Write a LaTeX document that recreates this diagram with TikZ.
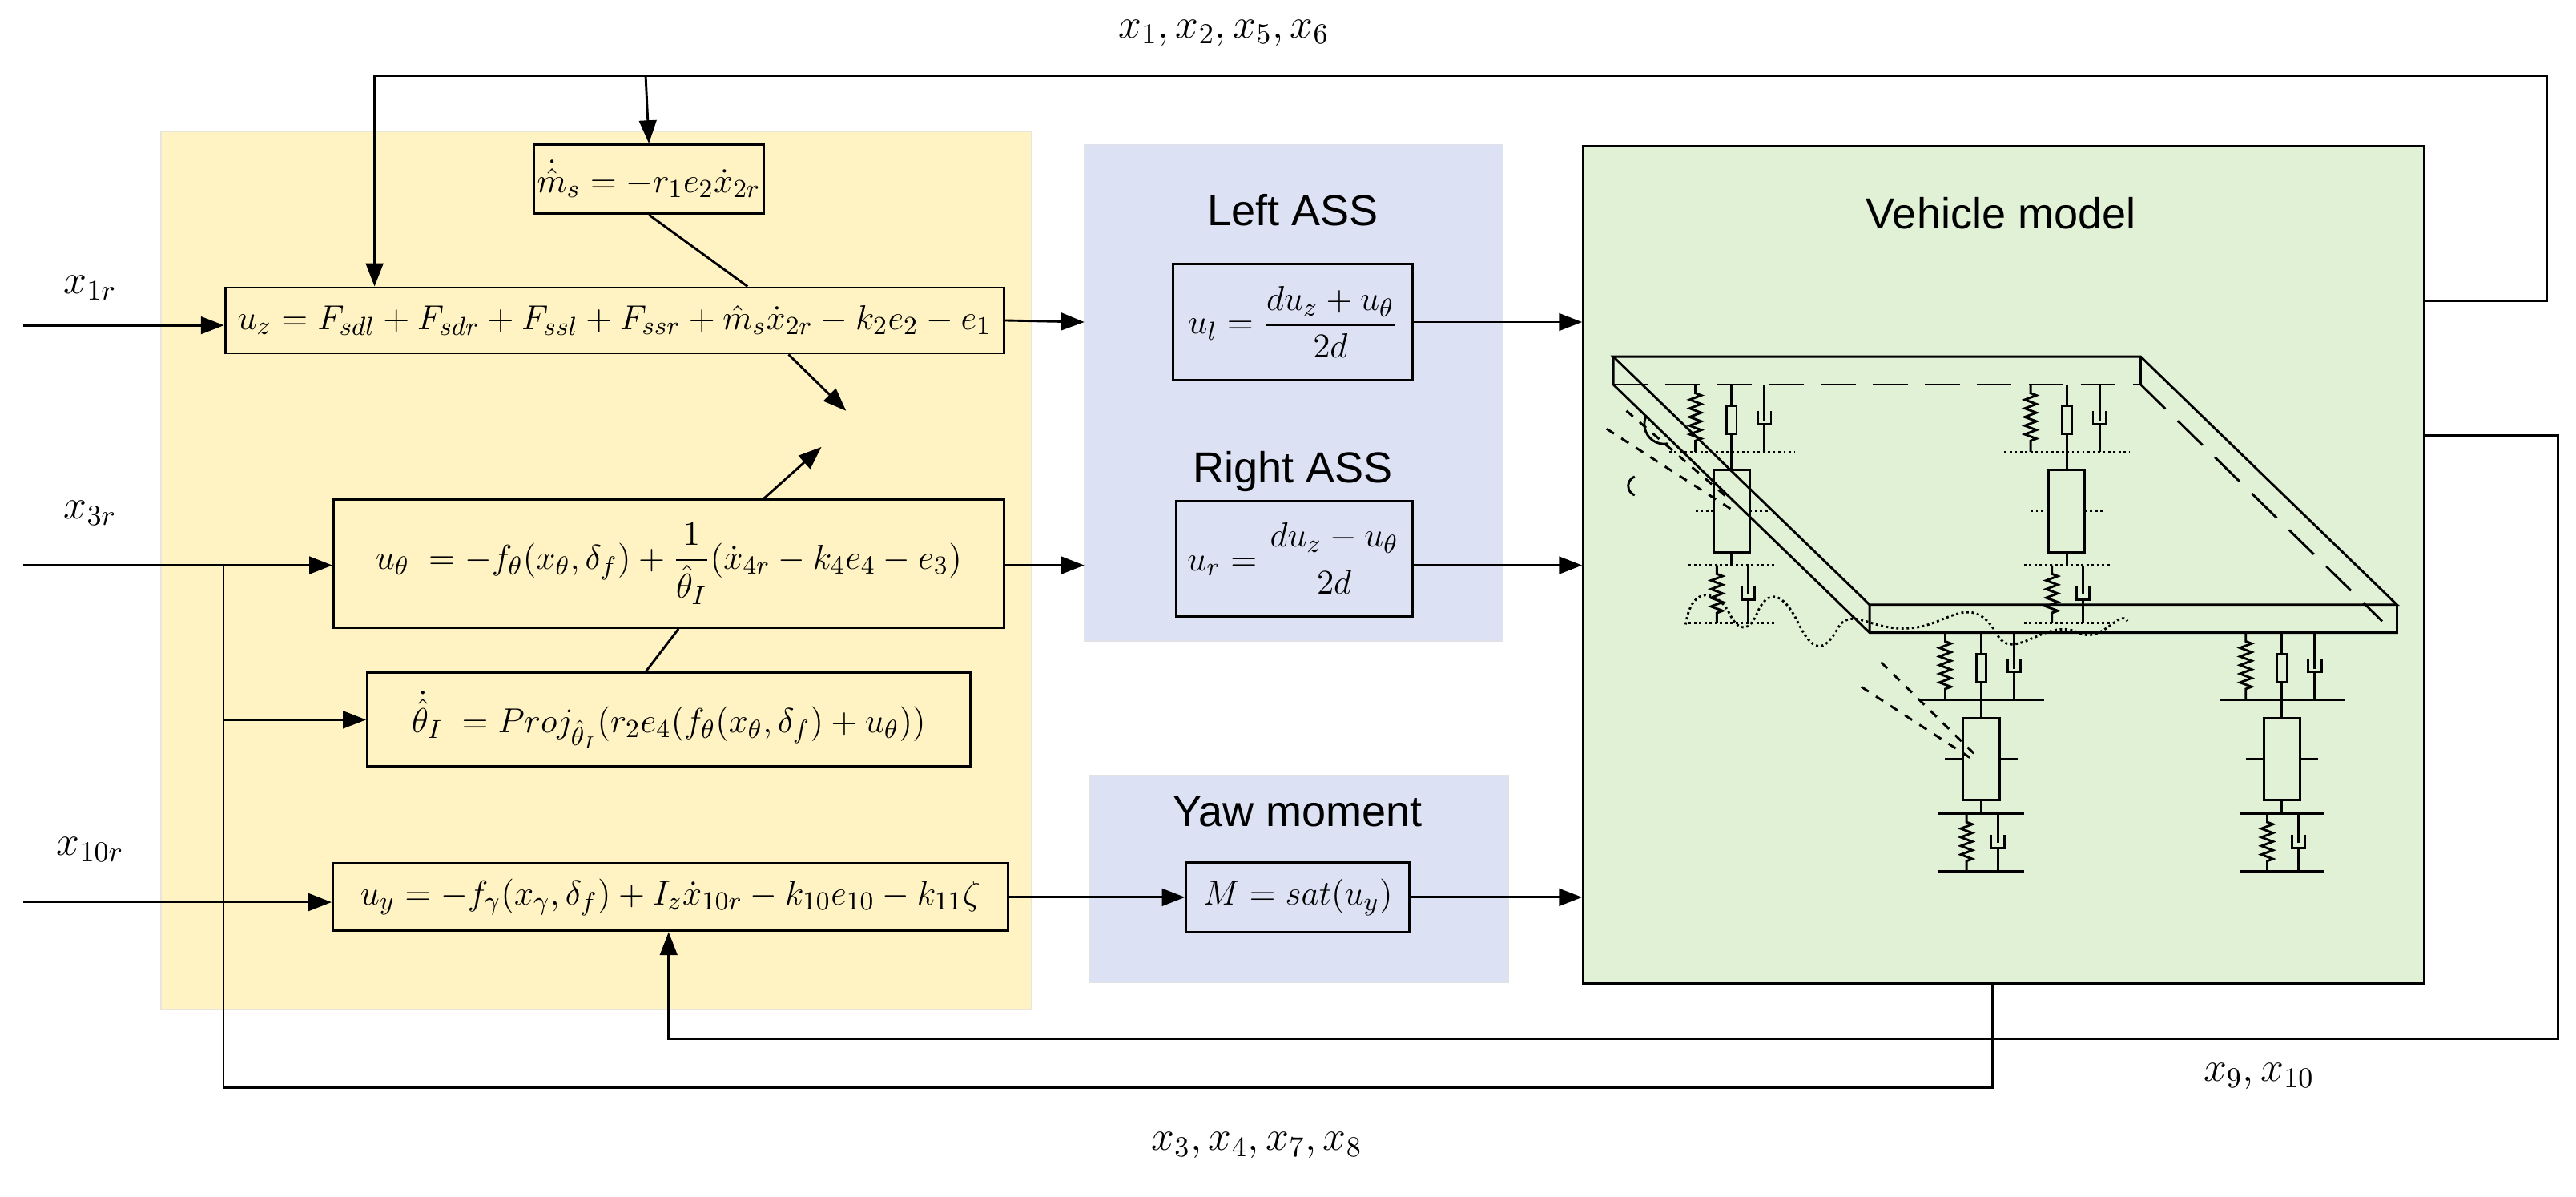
\documentclass[tikz,border=0pt]{standalone}
\usepackage{fontspec}
\setmainfont{Liberation Sans}
\usepackage{amsmath}
\usetikzlibrary{arrows.meta,positioning,calc,decorations.pathmorphing}
\definecolor{ctrlyellow}{HTML}{FFF3C4}
\definecolor{assblue}{HTML}{DDE1F4}
\definecolor{vehgreen}{HTML}{E1F1D5}
\tikzset{
	eq/.style={draw,thick,inner sep=1pt,font=\fontsize{12.5}{15}\selectfont},
	lbl/.style={font=\fontsize{14}{16}\selectfont},
	ttl/.style={font=\fontsize{15}{17}\selectfont},
	sig/.style={-{Triangle[length=8pt,width=6pt]},thick},
	line/.style={thick},
	spring/.style={thick,decorate,decoration={zigzag,segment length=3pt,amplitude=2pt,pre length=3pt,post length=3pt}},
}
% one suspension column: x, top y, style of the bars
\newcommand\suscol[3]{%
	\draw[spring] (#1-22,#2) -- (#1-22,#2+41);
	\draw[thick] (#1,#2) -- (#1,#2+13) (#1-3,#2+13) rectangle (#1+3,#2+30) (#1,#2+30) -- (#1,#2+41);
	\draw[thick] (#1+20,#2) -- (#1+20,#2+22) (#1+16,#2+16) -- (#1+16,#2+24) -- (#1+24,#2+24) -- (#1+24,#2+16) (#1+20,#2+24) -- (#1+20,#2+41);
	\draw[thick,#3] (#1-38,#2+41) -- (#1+38,#2+41);
	\draw[thick] (#1,#2+41) -- (#1,#2+52) (#1-11,#2+52) rectangle (#1+11,#2+102) (#1,#2+102) -- (#1,#2+110);
	\draw[thick,#3] (#1-22,#2+77) -- (#1-11,#2+77) (#1+11,#2+77) -- (#1+22,#2+77);
	\draw[thick,#3] (#1-26,#2+110) -- (#1+26,#2+110);
	\draw[spring] (#1-9,#2+110) -- (#1-9,#2+145);
	\draw[thick] (#1+10,#2+110) -- (#1+10,#2+128) (#1+6,#2+123) -- (#1+6,#2+131) -- (#1+14,#2+131) -- (#1+14,#2+123) (#1+10,#2+131) -- (#1+10,#2+145);
	\draw[thick,#3] (#1-26,#2+145) -- (#1+26,#2+145);
}
\begin{document}
\begin{tikzpicture}[x=0.02cm,y=-0.02cm]
	\useasboundingbox (0,0) rectangle (1568,728);
	%BACKGROUND BLOCKS
	\fill[ctrlyellow,draw=ctrlyellow!70!black!30] (98,80) rectangle (628,614);
	\fill[assblue,draw=assblue!70!black!30] (660,88) rectangle (915,390);
	\fill[assblue,draw=assblue!70!black!30] (663,472) rectangle (918,598);
	\node[draw,thick,fill=vehgreen,minimum width=10.24cm,minimum height=10.2cm,anchor=north west](veh) at (963,88){};
	\node[ttl] (lass) at (787,128){Left ASS};
	\node[ttl] (rass) at (787,287){Right ASS};
	\node[ttl] (yaw) at (790,494){Yaw moment};
	\node[ttl] (vtl) at (1218,130){Vehicle model};
	%CONTROL LAWS
	\node[eq,minimum width=2.48cm,minimum height=0.84cm](ms) at (395,109){$\dot{\hat m}_s=-r_1e_2\dot x_{2r}$};
	\node[eq,minimum width=9.48cm,minimum height=0.8cm](uz) at (374,195){$u_z=F_{sdl}+F_{sdr}+F_{ssl}+F_{ssr}+\hat m_s\dot x_{2r}-k_2e_2-e_1$};
	\node[eq,minimum width=8.16cm,minimum height=1.56cm](uth) at (407,343){$u_\theta\;=-f_\theta(x_\theta,\delta_f)+\dfrac{1}{\hat\theta_I}(\dot x_{4r}-k_4e_4-e_3)$};
	\node[eq,minimum width=7.34cm,minimum height=1.14cm](thi) at (407,438){$\dot{\hat\theta}_I\;=Proj_{\hat\theta_I}(r_2e_4(f_\theta(x_\theta,\delta_f)+u_\theta))$};
	\node[eq,minimum width=8.22cm,minimum height=0.82cm](uy) at (408,546){$u_y=-f_\gamma(x_\gamma,\delta_f)+I_z\dot x_{10r}-k_{10}e_{10}-k_{11}\zeta$};
	\node[eq,minimum width=2.92cm,minimum height=1.42cm](ul) at (787,196){$u_l=\dfrac{du_z+u_\theta}{2d}$};
	\node[eq,minimum width=2.88cm,minimum height=1.4cm](ur) at (788,340){$u_r=\dfrac{du_z-u_\theta}{2d}$};
	\node[eq,minimum width=2.72cm,minimum height=0.84cm](mz) at (790,546){$M=sat(u_y)$};
	%INPUTS
	\coordinate (in1) at (14,198);
	\coordinate (in3) at (14,344);
	\coordinate (in10) at (14,549);
	\node[lbl] (lx1) at (55,175){$x_{1r}$};
	\node[lbl] (lx3) at (55,312){$x_{3r}$};
	\node[lbl] (lx10) at (55,517){$x_{10r}$};
	\draw[sig] (in1) -- (uz.west|-in1);
	\draw[sig] (in3) -- (uth.west|-in3);
	\draw[sig] (in10) -- (uy.west|-in10);
	\draw[sig] (136,344) -- (136,438) -- (thi.west);
	%PATHS
	\draw[sig] (uz.east) -- (660,196);
	\draw[sig] (uth.east|-in3) -- (660,344);
	\draw[sig] (ul.east) -- (veh.west|-ul.east);
	\draw[sig] (ur.east|-in3) -- (veh.west|-in3);
	\draw[sig] (uy.east) -- (mz.west);
	\draw[sig] (mz.east) -- (veh.west|-mz.east);
	\draw[line] (ms.south) -- ($(455,0)!(uz.north)!(455,1)$);
	\draw[sig] ($(480,0)!(uz.south)!(480,1)$) -- (515,250);
	\draw[line] ($(393,0)!(thi.north)!(393,1)$) -- ($(413,0)!(uth.south)!(413,1)$);
	\draw[sig] ($(465,0)!(uth.north)!(465,1)$) -- (500,272);
	%FEEDBACK
	\draw[sig] (veh.east|-1550,183) -- (1550,183) -- (1550,46) -- (228,46) -- ($(228,0)!(uz.north)!(228,1)$);
	\draw[sig] (393,46) -- (ms.north);
	\draw[sig] (veh.east|-1557,265) -- (1557,265) -- (1557,632) -- (407,632) -- ($(407,0)!(uy.south)!(407,1)$);
	\draw[line] (136,344) -- (136,662) -- (1213,662) -- ($(1213,0)!(veh.south)!(1213,1)$);
	\node[lbl] (fb1) at (745,20){$x_1,x_2,x_5,x_6$};
	\node[lbl] (fb2) at (1375,655){$x_9,x_{10}$};
	\node[lbl] (fb3) at (765,697){$x_3,x_4,x_7,x_8$};
	%VEHICLE SKETCH
	\draw[thick,dash pattern=on 12pt off 6pt] (982,234) -- (1303,234);
	\draw[thick,dash pattern=on 12pt off 6pt] (1303,234) -- (1450,378);
	\draw[thick] (982,217) -- (1303,217) -- (1459,368) -- (1138,368) -- cycle;
	\draw[thick] (982,217) -- (982,234) -- (1138,385) -- (1459,385) -- (1459,368) (1138,368) -- (1138,385) (1303,217) -- (1303,234);
	\suscol{1054}{234}{densely dotted}
	\suscol{1258}{234}{densely dotted}
	\suscol{1206}{385}{}
	\suscol{1389}{385}{}
	\draw[densely dotted,thick] (1026,380) .. controls (1030,355) and (1045,360) .. (1052,372) .. controls (1058,385) and (1065,385) .. (1070,372) .. controls (1078,355) and (1088,365) .. (1095,380)
		.. controls (1105,400) and (1112,395) .. (1120,380) .. controls (1130,370) and (1140,385) .. (1165,382) .. controls (1185,380) and (1200,360) .. (1215,385)
		.. controls (1225,405) and (1245,375) .. (1265,385) .. controls (1280,392) and (1290,370) .. (1295,378);
	\draw[thick,dashed] (978,261) -- (1054,310) (990,250) -- (1054,305) (1145,403) -- (1204,461) (1133,418) -- (1199,461);
	\draw[thick] (995,290) arc (250:110:6) (1015,270) arc (80:200:12);
\end{tikzpicture}
\end{document}
